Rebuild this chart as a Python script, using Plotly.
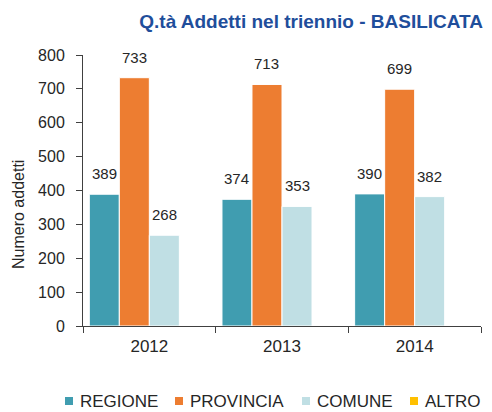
import plotly.graph_objects as go

categories = ["2012", "2013", "2014"]
series_names = ["REGIONE", "PROVINCIA", "COMUNE", "ALTRO"]
regione = [389, 374, 390]
provincia = [733, 713, 699]
comune = [268, 353, 382]
altro = [0, 0, 0]
series_values = [regione, provincia, comune, altro]
show_labels = [True, True, True, False]
colors = ["#409DB0", "#ED7D31", "#C0DFE4", "#FFC000"]
y_ticks = [0, 100, 200, 300, 400, 500, 600, 700, 800]

W, H = 492, 412
L, R, T, B = 83, 11, 55, 86
PW, PH = W - L - R, H - T - B
BARGAP = 0.095
FONT = "Liberation Sans, Arial, sans-serif"
TXT = "#262626"

fig = go.Figure()
for name, vals, col in zip(series_names, series_values, colors):
    fig.add_trace(go.Bar(
        x=categories, y=vals, name=name, marker_color=col,
        marker_line_color="white", marker_line_width=1, showlegend=False,
    ))

n = len(series_names)
bw = (1 - BARGAP) / n
annotations = []
for j, (vals, show) in enumerate(zip(series_values, show_labels)):
    if not show:
        continue
    for i, v in enumerate(vals):
        annotations.append(dict(
            x=i + (j - (n - 1) / 2) * bw, y=v, xref="x", yref="y",
            text=str(v), showarrow=False, yanchor="bottom", yshift=10,
            font=dict(family=FONT, size=15, color=TXT),
        ))

# y axis title
annotations.append(dict(
    x=(18 - L) / PW, y=(H - B - 215) / PH, xref="paper", yref="paper",
    text="Numero addetti", textangle=-90, showarrow=False,
    xanchor="center", yanchor="middle",
    font=dict(family=FONT, size=16, color=TXT),
))

# custom legend
leg_marker_x = [65, 175, 302, 410]
leg_text_x = [78, 188, 315, 423]
leg_y = 401
shapes = []
for name, col, mx, tx in zip(series_names, colors, leg_marker_x, leg_text_x):
    shapes.append(dict(
        type="rect", xref="paper", yref="paper",
        x0=(mx - L) / PW, x1=(mx + 8 - L) / PW,
        y0=(H - B - (leg_y + 4)) / PH, y1=(H - B - (leg_y - 4)) / PH,
        fillcolor=col, line_width=0,
    ))
    annotations.append(dict(
        x=(tx - L) / PW, y=(H - B - leg_y) / PH, xref="paper", yref="paper",
        text=name, showarrow=False, xanchor="left", yanchor="middle",
        font=dict(family=FONT, size=17, color=TXT),
    ))

fig.update_layout(
    width=W, height=H,
    margin=dict(l=L, r=R, t=T, b=B, pad=0),
    paper_bgcolor="white", plot_bgcolor="white",
    barmode="group", bargap=BARGAP, bargroupgap=0,
    title=dict(
        text="<b>Q.tà Addetti nel triennio - BASILICATA</b>",
        x=483 / W, xanchor="right", xref="container",
        y=1 - 21 / H, yanchor="middle", yref="container",
        font=dict(family=FONT, size=19, color="#1F4E9B"),
    ),
    xaxis=dict(
        type="category", showgrid=False, showline=True, linecolor="#404040",
        linewidth=1, ticks="outside", tickson="boundaries", ticklen=6,
        tickcolor="#404040", ticklabelstandoff=5,
        tickfont=dict(family=FONT, size=17, color=TXT),
        range=[-0.5, 2.5],
    ),
    yaxis=dict(
        range=[0, 800], tickvals=y_ticks, showgrid=False, zeroline=False,
        showline=True, linecolor="#404040", linewidth=1, ticks="outside",
        ticklen=6, tickcolor="#404040", ticklabelstandoff=8,
        tickfont=dict(family=FONT, size=16, color=TXT),
    ),
    annotations=annotations, shapes=shapes,
)

fig.write_html(
    "out.html",
    config={"displayModeBar": False},
    post_script="document.body.style.margin='0';document.body.style.overflow='hidden';",
)
